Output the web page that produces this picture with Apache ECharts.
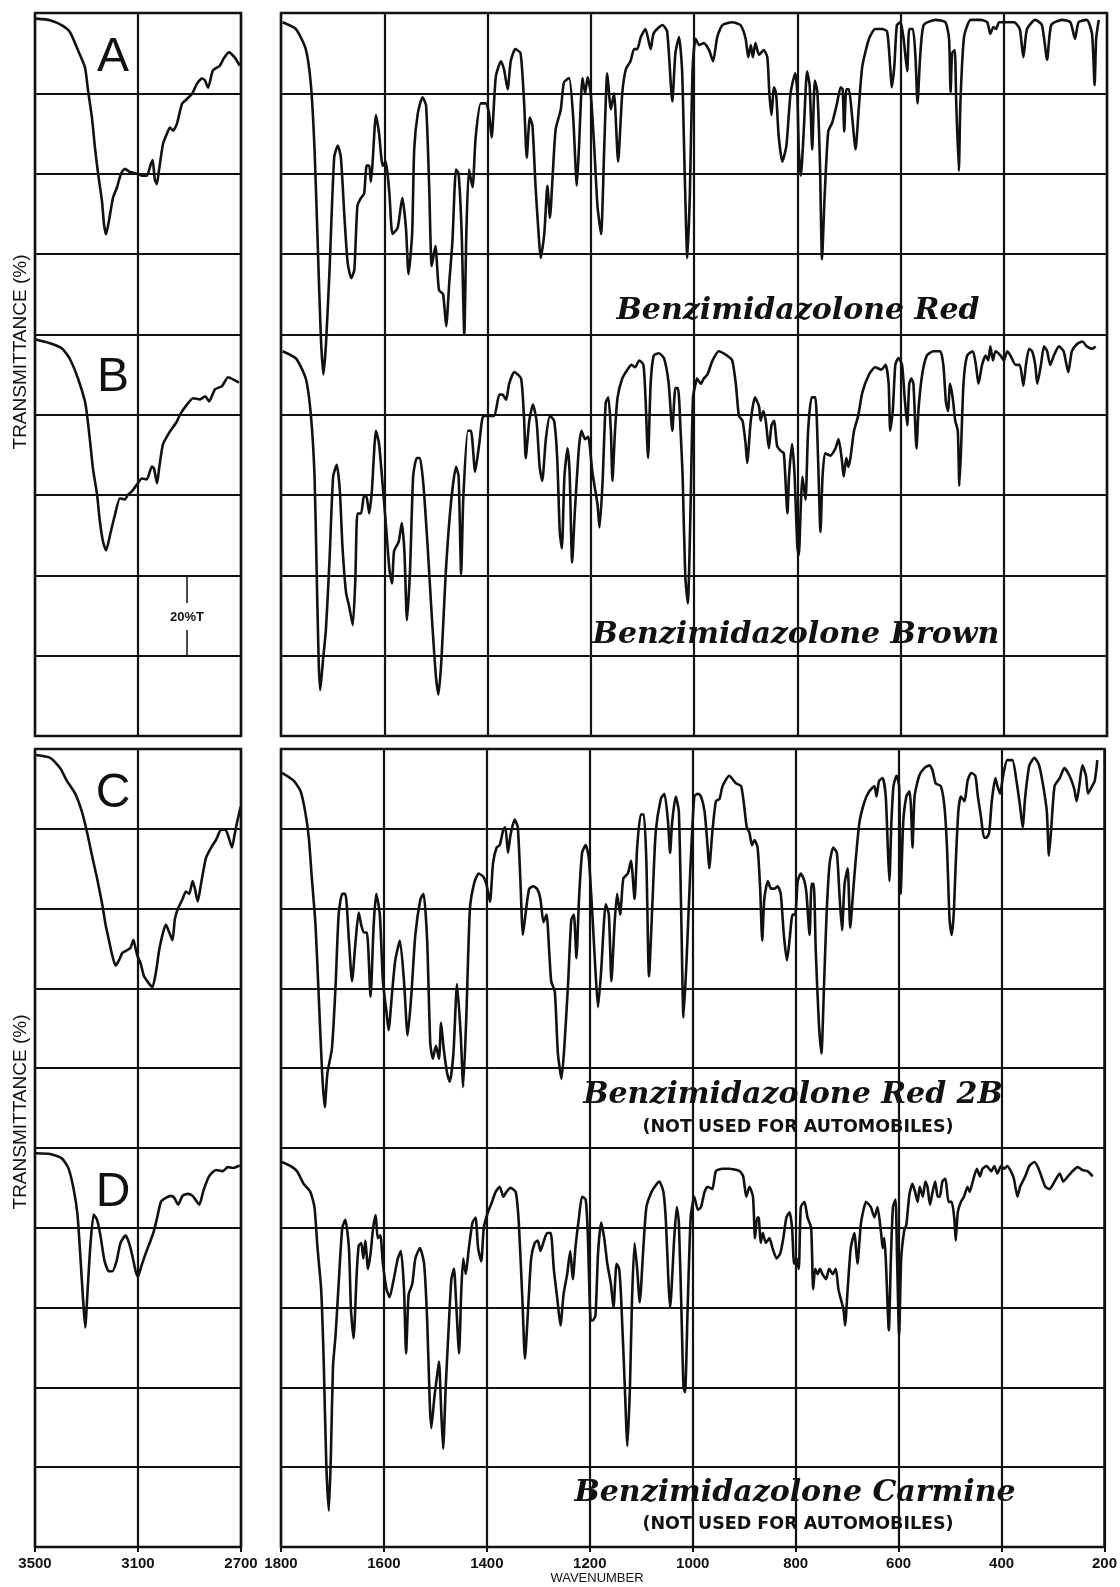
<!DOCTYPE html>
<html>
<head>
<meta charset="utf-8">
<script src="https://cdn.jsdelivr.net/npm/echarts@6/dist/echarts.min.js"></script>
<style>
  body { margin: 0; background: #fff; }
  #chart_main { width: 1120px; height: 1587px; }
</style>
</head>
<body>
<div id="chart_main"></div>
<script>
// wavenumber (cm-1) / transmittance (%)
const specA_hi = [[3496,98.6],[3442,98.2],[3395,96.9],[3364,95.2],[3333,90.7],[3306,86.5],[3294,80.7],[3279,74],[3267,66.4],[3255,60],[3240,53.2],[3232,47.4],[3224,44.9],[3213,48.2],[3197,54],[3182,56.5],[3166,60],[3151,61.2],[3131,60.4],[3104,60],[3085,59.5],[3066,59.5],[3050,62.4],[3043,63.4],[3035,58.6],[3027,57.4],[3019,60.6],[3003,67.4],[2988,69.9],[2976,71.5],[2964,70.7],[2949,72.4],[2929,77.4],[2910,78.6],[2890,79.9],[2871,82.4],[2851,83.7],[2840,83.2],[2828,81.4],[2809,85.7],[2782,86.9],[2767,88.7],[2747,90.2],[2724,88.9],[2705,86.9]];
const specB_hi = [[3500,98.8],[3442,97.8],[3395,96.5],[3364,93.8],[3333,89],[3306,83.3],[3298,80],[3286,73.3],[3275,66.6],[3259,60.1],[3248,53.4],[3236,48.4],[3224,46.2],[3208,50.2],[3189,55.2],[3170,59.2],[3151,58.9],[3139,60.1],[3124,60.9],[3104,62.6],[3085,64.1],[3066,63.9],[3046,67.1],[3038,66.6],[3026,62.9],[3018,66.6],[3003,72.6],[2976,75.8],[2949,78.3],[2937,80],[2910,82.5],[2886,84.1],[2859,83.8],[2839,84.6],[2824,83.3],[2801,86.3],[2774,87.1],[2750,89.3],[2731,88.8],[2708,88]];
const specC_hi = [[3496,98.5],[3441,97.8],[3402,95.2],[3376,92],[3344,88.8],[3318,84.3],[3298,79.2],[3279,73.4],[3259,67.6],[3239,61.1],[3226,56],[3213,52.1],[3200,48.3],[3187,45.7],[3174,47],[3161,48.9],[3144,49.5],[3129,50.2],[3118,52.1],[3112,50.8],[3103,48.3],[3090,46.3],[3077,43.1],[3057,41.2],[3044,40.3],[3031,43.8],[3018,49.5],[3005,53.4],[2992,56],[2979,54.1],[2966,52.1],[2957,57.3],[2946,59.8],[2927,62.4],[2914,64.3],[2901,63.7],[2888,66.9],[2879,65],[2868,61.8],[2855,66.3],[2836,72.7],[2816,75.3],[2797,77.2],[2777,79.8],[2761,79.8],[2748,77.9],[2735,75.3],[2725,78.5],[2715,81.7],[2701,85.6]];
const specD_hi = [[3496,98.7],[3441,98.5],[3396,97.4],[3370,94.9],[3350,89.7],[3335,83.3],[3324,73],[3314,62.7],[3305,55],[3296,64],[3285,75.5],[3272,83.3],[3259,82],[3246,78.1],[3230,71.7],[3213,69.1],[3200,69.1],[3183,71.7],[3168,76.2],[3148,78.1],[3135,76.2],[3122,73],[3109,69.1],[3100,67.8],[3087,70.4],[3070,73.6],[3050,77],[3037,79.5],[3024,83],[3011,86.5],[2992,87.5],[2972,88],[2959,87.5],[2944,85.8],[2927,88],[2907,88.5],[2888,88],[2871,86.5],[2862,85.8],[2845,89.5],[2823,93],[2797,94.5],[2771,94.2],[2751,95.2],[2731,95],[2705,95.6]];

const specA_lo = [[1797,97.7],[1771,96],[1752,91],[1742,82],[1735,66],[1729,43],[1723,20],[1718,10],[1713,17.3],[1706,36],[1697,64],[1690,67],[1684,64],[1677,49],[1671,38],[1664,34],[1658,36],[1652,52],[1645,54],[1639,55],[1634,62],[1629,62],[1626,58],[1623,62],[1616,74.6],[1610,70],[1603,62],[1597,63],[1590,55],[1584,45],[1574,46.5],[1565,54],[1558,46.5],[1553,35],[1546,45],[1542,66],[1535,75],[1526,79],[1519,77],[1513,57],[1508,37],[1501,42],[1494,31],[1486,30],[1480,22],[1474,33],[1468,43],[1461,61],[1456,60],[1450,45],[1445,20],[1441,45],[1436,61],[1429,56.6],[1423,69],[1413,77.5],[1403,77.5],[1397,75],[1392,69],[1384,84],[1374,88],[1368,86],[1361,81],[1355,88],[1346,91],[1336,90],[1329,77.5],[1324,64],[1318,74],[1313,72],[1307,57],[1301,45],[1297,39],[1290,45],[1284,57],[1279,49],[1274,59],[1268,71],[1258,76],[1252,82.7],[1242,83.8],[1234,74],[1227,57],[1223,66],[1216,83.8],[1211,80],[1206,84],[1200,80],[1193,66],[1187,52],[1180,45],[1174,66],[1168,85],[1161,76],[1155,80],[1147,63],[1139,80],[1132,86],[1123,88],[1116,91],[1110,91],[1103,94],[1094,96],[1084,91],[1078,95],[1061,97],[1052,95.4],[1042,78],[1036,90],[1029,94],[1023,85.5],[1018,60],[1013,39],[1008,55],[1003,85],[997,93.6],[990,92],[981,92.5],[971,90.8],[963,88],[955,94],[945,97],[926,97.7],[910,97],[900,93.6],[895,89],[890,92],[886,89],[881,92.5],[874,89.6],[865,90.8],[858,89],[854,80],[850,74.6],[845,81.5],[841,80],[836,69.4],[829,63],[821,67],[813,80],[804,85],[800,80.3],[797,65.9],[793,59.5],[787,71.7],[781,85.5],[776,82],[771,66],[766,83.2],[761,80.3],[756,62.4],[752,38.7],[747,54.3],[740,70.5],[732,72.8],[723,77.5],[716,81.5],[712,81],[709,70.5],[705,81],[700,81],[694,74.6],[687,66],[681,76],[674,86.7],[661,93.6],[649,96],[636,96],[626,95.4],[620,86.7],[617,81.5],[612,86.7],[607,97],[600,97.7],[594,93.6],[587,85.5],[583,96],[576,96],[571,89],[567,77.5],[562,89],[555,97],[532,98.3],[513,97.7],[506,93.6],[503,80.3],[500,90],[495,90.8],[492,77.5],[487,60.7],[484,77.5],[477,94],[464,98.3],[445,98.3],[432,97.7],[426,94.8],[420,96.5],[415,96],[409,97.7],[396,97.7],[380,97.7],[369,96],[362,89],[355,96],[339,98.3],[326,97],[316,88.4],[308,97],[287,98.3],[271,97.7],[262,93.6],[255,97.7],[239,98.3],[229,94.8],[224,82],[221,93.6],[216,98.3]];
const specB_lo = [[1797,95.8],[1771,94],[1752,89],[1742,79.7],[1735,64.6],[1731,41.5],[1727,18.4],[1724,11.4],[1719,18.4],[1713,26.5],[1706,43.8],[1699,64.6],[1692,67.5],[1686,61],[1681,47.3],[1674,35.7],[1668,32.3],[1661,27.6],[1656,39],[1652,55.4],[1645,55.4],[1639,60],[1634,59.4],[1629,55.4],[1624,61],[1616,76],[1610,72.7],[1603,62.3],[1597,53],[1590,41.5],[1585,38],[1581,46],[1572,48.4],[1566,53],[1561,46],[1556,28.8],[1550,41.5],[1544,64.6],[1537,69.2],[1531,69.2],[1524,62.3],[1516,47.3],[1508,30],[1500,15],[1495,10.3],[1489,19.5],[1481,40.3],[1471,57.7],[1461,67],[1456,64.6],[1451,40.3],[1447,58.8],[1438,76],[1432,76],[1424,65.8],[1416,72.7],[1408,79.7],[1397,79.7],[1387,79.7],[1377,85],[1371,85],[1364,83.7],[1358,87.7],[1348,90.6],[1335,89],[1329,78.5],[1326,69.2],[1319,78.5],[1312,82.5],[1305,78.5],[1299,67],[1294,63.5],[1287,73.9],[1279,79.7],[1271,78.5],[1265,69.2],[1260,50.8],[1256,46.7],[1251,64.6],[1245,71.6],[1241,65.8],[1236,43.2],[1231,55.4],[1223,71.6],[1218,76],[1211,73.9],[1205,74.5],[1197,65.8],[1187,57.7],[1183,51.9],[1177,63.5],[1171,83],[1166,84.3],[1161,76],[1158,63.5],[1153,76],[1148,84.3],[1139,89],[1129,91.2],[1121,92.4],[1114,91.8],[1106,93.5],[1098,92.4],[1094,84.3],[1089,69.2],[1084,87.7],[1078,94.7],[1068,95.3],[1058,94],[1049,87.7],[1042,76],[1036,86.6],[1031,86.6],[1026,76],[1022,64.6],[1017,40],[1012,33],[1007,55],[1002,84.3],[997,87.7],[994,89],[987,87.7],[981,89],[974,90],[964,93.5],[952,95.8],[936,94.7],[926,93.5],[919,87.7],[913,79.7],[906,78.5],[900,72.7],[897,68],[890,78.5],[882,84.3],[874,82],[871,78.5],[866,80.9],[861,78.5],[855,71.6],[850,77.3],[845,78.5],[839,72.2],[832,71],[826,70.4],[819,55.4],[816,64.6],[810,72.7],[805,64.6],[800,47.3],[797,45],[793,57.7],[790,64.6],[784,58.8],[779,76],[772,84.3],[765,84.3],[760,70.4],[755,50.8],[751,64.6],[746,70.4],[736,69.8],[726,71.6],[720,73.9],[714,69.2],[710,64.6],[705,69.2],[701,67],[697,69.2],[690,76],[682,79.7],[674,85.5],[661,90],[649,91.8],[637,91.2],[629,92.4],[623,87.7],[620,76],[615,80.9],[610,92.4],[604,94.1],[597,92.4],[592,84.3],[587,77.3],[583,87.7],[579,89],[575,87.7],[569,71.6],[565,81.5],[558,90],[549,94.7],[536,95.8],[523,95.8],[517,92.4],[512,83.1],[508,80.9],[504,87.7],[499,84.3],[494,78.5],[489,76],[486,62.3],[483,70.4],[478,87.7],[471,94.7],[460,95.8],[454,92.4],[449,87.7],[442,92.4],[435,94.7],[430,93.5],[426,97],[421,93.5],[416,95.8],[406,94.7],[400,93.5],[393,95.8],[387,94.7],[377,92.4],[369,92.4],[362,87.2],[357,92.4],[351,96.4],[345,95.8],[339,92.4],[335,87.7],[328,92.4],[322,97],[316,95.8],[310,92.4],[303,94.7],[293,97],[284,95.8],[275,90.6],[268,95.8],[258,97.6],[248,98.2],[239,97],[229,96.4],[222,97]];
const specC_lo = [[1798,94],[1775,92],[1762,89.4],[1753,84.3],[1746,77.8],[1740,67.5],[1733,56],[1727,39],[1720,18.6],[1715,10.2],[1710,18.6],[1701,25],[1694,40.5],[1688,58.5],[1681,63.7],[1675,63.7],[1668,52],[1662,41.8],[1655,52],[1649,59],[1644,55.8],[1639,54],[1633,54],[1626,37.9],[1620,55.8],[1615,63.7],[1608,58.5],[1602,41.8],[1595,34],[1591,29.5],[1584,39.2],[1578,47],[1569,52],[1561,41.8],[1554,28.2],[1547,37.9],[1539,53.4],[1529,62.4],[1523,63.7],[1516,52],[1510,26.3],[1505,22.4],[1499,25.6],[1493,22.4],[1489,31.4],[1484,25],[1477,18.6],[1472,16.6],[1465,23.7],[1458,41.1],[1451,28.9],[1446,15.3],[1440,32.7],[1433,59.8],[1425,66.2],[1416,68.8],[1407,68],[1401,66.2],[1394,61.7],[1388,71.4],[1381,75.3],[1375,75.9],[1368,79.8],[1364,80.4],[1359,74],[1354,78.5],[1346,82.3],[1340,80.4],[1335,67.5],[1330,53.4],[1325,58.5],[1318,64.9],[1310,65.6],[1302,64.9],[1296,62.4],[1290,56.6],[1284,58.5],[1279,49.5],[1275,41.8],[1268,39.2],[1262,23.7],[1255,17.3],[1249,26.3],[1242,41.8],[1236,57.2],[1231,58.5],[1226,47.6],[1221,62.4],[1215,74],[1208,75.9],[1202,72.7],[1195,58.5],[1189,44.3],[1184,35.3],[1178,44.3],[1169,61.1],[1163,58.5],[1158,41.8],[1152,56],[1147,63.7],[1141,58.5],[1135,67.5],[1126,68.8],[1120,72],[1113,62.4],[1108,75.3],[1101,83.6],[1095,83.6],[1090,71.4],[1085,43],[1078,62.4],[1072,79.1],[1062,87.5],[1055,88.8],[1048,81.7],[1044,74],[1040,81.7],[1033,88.1],[1027,84.3],[1022,56],[1018,32.7],[1012,47],[1005,68.8],[997,88.1],[990,88.8],[984,88.1],[977,84.3],[971,75.3],[968,70.1],[962,79.1],[955,86.9],[948,87.5],[942,90.7],[929,93.3],[916,91.4],[906,90.7],[900,85.6],[895,80.4],[890,79.1],[885,75.9],[880,77.2],[874,75.3],[869,65],[865,52],[861,62.4],[854,66.9],[848,65],[841,65],[835,65.6],[829,63.7],[823,53.4],[817,47],[812,52],[806,58.5],[801,58.5],[796,66.9],[790,68.8],[783,66.9],[779,63.7],[773,53.4],[769,66.2],[765,66.2],[761,49.5],[755,31.4],[750,23.7],[745,40.5],[740,58.5],[734,71.4],[727,75.3],[720,74],[715,63.7],[710,54.6],[705,66.2],[699,70.1],[694,55.2],[688,64.9],[683,72.7],[676,81.7],[666,86.9],[657,89.4],[647,90.7],[643,88.1],[638,92],[631,92.7],[625,88.1],[621,75.3],[618,66.9],[614,81.7],[610,90.7],[604,93.3],[599,90.7],[596,63.7],[591,81.7],[585,88.1],[579,89.4],[576,85.6],[573,75.3],[569,88.1],[560,93.3],[550,95.2],[540,95.9],[534,94.6],[528,91.4],[518,90.7],[511,85.6],[506,75.3],[501,57.2],[497,53.4],[493,58.5],[489,71.4],[484,84.3],[479,88.1],[472,86.9],[466,92],[459,94],[451,93.3],[446,88.1],[440,83],[434,77.8],[429,77.8],[424,79.1],[419,86.9],[412,92.7],[408,90.7],[403,88.8],[397,93.3],[389,97.2],[379,97.2],[371,92],[364,85.6],[359,80.4],[354,88.1],[346,95.9],[336,97.8],[327,95.9],[319,90.7],[312,84.3],[308,73.3],[304,79.1],[297,90.7],[287,92.7],[278,95.2],[268,93.3],[259,90.1],[254,86.9],[249,90.7],[243,95.9],[236,93.3],[232,88.8],[224,90.7],[219,92],[214,97.2]];
const specD_lo = [[1798,96.5],[1782,95.5],[1769,94.2],[1756,91],[1743,89],[1735,85.2],[1729,74.9],[1722,64.6],[1717,46.5],[1712,20.7],[1707,9.1],[1703,23.3],[1699,45.2],[1694,53],[1688,65.9],[1681,80],[1675,82],[1668,74.9],[1664,59.4],[1659,52.3],[1653,68.4],[1649,75.5],[1644,76.2],[1640,72.3],[1636,76.8],[1631,69.7],[1626,73.6],[1621,80],[1616,83.2],[1612,77.4],[1607,78.1],[1602,71],[1595,64.6],[1589,62.6],[1581,67.1],[1573,72.3],[1567,74.2],[1561,64.6],[1557,48.5],[1552,63.3],[1545,65.9],[1539,72.3],[1530,74.9],[1522,71],[1516,56.8],[1511,36.2],[1508,29.8],[1502,37.5],[1497,42.7],[1493,46.5],[1489,34.9],[1485,24.6],[1480,40.1],[1474,55.5],[1469,67.1],[1464,69.7],[1460,62],[1454,48.5],[1450,63.3],[1446,72.3],[1441,68.4],[1435,74.9],[1428,81.3],[1422,82.6],[1417,74.9],[1411,71.6],[1406,80],[1398,83.9],[1390,86.5],[1383,89],[1375,90.3],[1368,87.8],[1362,89],[1354,90],[1344,89],[1338,81.3],[1331,62],[1326,47.2],[1320,59.4],[1314,72.3],[1307,76.2],[1301,76.8],[1296,74.2],[1289,76.8],[1283,78.7],[1276,78.7],[1270,69.7],[1263,62],[1257,55.5],[1251,63.3],[1244,68.4],[1238,74.2],[1233,67.1],[1228,74.9],[1221,82.6],[1215,87.8],[1208,87.1],[1204,78.7],[1198,56.8],[1194,56.8],[1189,58.1],[1184,73.6],[1178,81.3],[1172,77.4],[1166,71],[1159,65.9],[1154,60],[1148,71],[1143,69.7],[1139,62],[1132,40.1],[1127,25.3],[1122,40.1],[1118,62],[1113,76.2],[1108,69.7],[1103,61.3],[1096,74.9],[1090,85.2],[1080,89],[1070,91],[1065,91.6],[1057,89],[1052,81.3],[1047,65.9],[1044,60],[1036,77.4],[1031,85.2],[1027,81.3],[1022,59.4],[1018,40.1],[1015,38.8],[1010,59.4],[1004,82.6],[997,87.8],[990,84.5],[984,85.2],[977,89],[971,90.3],[962,89.7],[955,94.2],[942,94.8],[929,94.8],[909,94.2],[902,92.9],[896,87.8],[890,90.3],[883,87.8],[879,77.4],[875,82.6],[872,82.6],[868,76.2],[864,78.7],[858,76.2],[851,77.4],[845,74.9],[837,72.3],[830,73.6],[824,77.4],[818,82.6],[812,83.9],[807,80],[803,71],[798,72.3],[794,69.7],[790,85.2],[783,86.5],[777,82.6],[770,80],[766,64.6],[762,69.7],[757,68.4],[753,69.7],[748,68.4],[741,67.1],[735,69.7],[728,68.4],[722,69.7],[717,64.6],[712,62],[707,59.4],[704,55.5],[699,64.6],[693,74.9],[686,78.7],[680,71],[673,81.3],[663,86.5],[654,85.2],[647,82.6],[641,85.2],[634,78.7],[631,74.9],[628,77.4],[625,72.3],[619,54.3],[615,72.3],[611,85.2],[606,87.1],[603,72.3],[599,53],[595,72.3],[589,79.4],[585,80.7],[579,88.4],[573,91],[568,89],[563,86.5],[559,90.3],[553,87.8],[548,91.6],[544,90.3],[539,85.8],[534,89],[529,91.6],[524,87.8],[520,87.8],[515,91.6],[509,92.3],[503,86.5],[497,86.5],[492,82.6],[489,76.8],[485,83.9],[479,86.5],[473,87.8],[466,90.3],[462,89],[456,91.6],[448,94.8],[442,92.9],[437,94.8],[429,95.5],[420,94.2],[414,95.5],[408,93.6],[401,95.5],[395,94.8],[389,95.5],[382,94.2],[376,92.3],[369,87.8],[364,90.3],[359,91.6],[354,92.9],[346,95.5],[336,96.5],[328,94.8],[321,92.3],[315,90.3],[307,89.7],[297,91.6],[287,93.6],[280,91.6],[271,92.9],[262,94.2],[252,95.2],[243,94.5],[233,94.2],[223,92.9]];

const hiTicks = [3500, 3100, 2700];
const loTicks = [1800, 1600, 1400, 1200, 1000, 800, 600, 400, 200];

const names = ['Benzimidazolone Red', 'Benzimidazolone Brown', 'Benzimidazolone Red 2B', 'Benzimidazolone Carmine'];
const note = '(NOT USED FOR AUTOMOBILES)';

var myChart = echarts.init(document.getElementById('chart_main'), null, { renderer: 'canvas' });

const black = '#111';
const gridBox = { show: true, borderColor: black, borderWidth: 2.5, backgroundColor: 'transparent' };

function xHi(gridIndex, labels) {
    // plotted as distance from 3500 so the 400 step lands on 3500/3100/2700
    return {
        type: 'value', gridIndex: gridIndex, min: 0, max: 800, interval: 400,
        axisLine: { show: false },
        axisTick: { show: labels, length: 5, lineStyle: { color: black, width: 2 } },
        axisLabel: { show: labels, margin: 9, color: black, fontFamily: 'Liberation Sans', fontWeight: 'bold', fontSize: 15,
            formatter: v => String(hiTicks[0] - v) },
        splitLine: { show: true, lineStyle: { color: black, width: 2.2 } }
    };
}
function xLo(gridIndex, labels) {
    return {
        type: 'value', gridIndex: gridIndex, min: 200, max: 1800, interval: 200, inverse: true,
        axisLine: { show: false },
        axisTick: { show: labels, length: 5, lineStyle: { color: black, width: 2 } },
        axisLabel: { show: labels, margin: 9, color: black, fontFamily: 'Liberation Sans', fontWeight: 'bold', fontSize: 15,
            formatter: v => loTicks.indexOf(v) >= 0 ? String(v) : '' },
        splitLine: { show: true, lineStyle: { color: black, width: 2.2 } }
    };
}
function yAx(gridIndex, max) {
    return {
        type: 'value', gridIndex: gridIndex, min: 0, max: max, interval: 20,
        axisLine: { show: false }, axisTick: { show: false }, axisLabel: { show: false },
        splitLine: { show: true, lineStyle: { color: black, width: 2.2 } }
    };
}
function trace(data, idx, hi, offset) {
    return {
        type: 'line', xAxisIndex: idx, yAxisIndex: idx, showSymbol: false, smooth: 0.2,
        silent: true, animation: false,
        lineStyle: { color: black, width: 2.6 },
        data: data.map(p => [hi ? hiTicks[0] - p[0] : p[0], p[1] + offset])
    };
}

function txt(x, y, text, font, rot) {
    return {
        type: 'text', x: x, y: y, rotation: rot || 0, silent: true,
        style: { text: text, font: font, fill: black, textAlign: 'center', textVerticalAlign: 'middle' }
    };
}

const bigFont = '48px "Liberation Sans"';
const titleFont = 'italic bold 30px "DejaVu Serif"';
const noteFont = 'bold 17.5px "DejaVu Sans"';
const sideFont = '19px "Liberation Sans"';

var option = {
    backgroundColor: '#fff',
    animation: false,
    grid: [
        Object.assign({ left: 35, top: 13, width: 206, height: 723 }, gridBox),
        Object.assign({ left: 281, top: 13, width: 826, height: 723 }, gridBox),
        Object.assign({ left: 35, top: 749, width: 206, height: 798 }, gridBox),
        Object.assign({ left: 281, top: 749, width: 826, height: 798 }, gridBox)
    ],
    xAxis: [xHi(0, false), xLo(1, false), xHi(2, true), xLo(3, true)],
    yAxis: [yAx(0, 180), yAx(1, 180), yAx(2, 200), yAx(3, 200)],
    series: [
        trace(specA_hi, 0, true, 80),
        trace(specB_hi, 0, true, 0),
        trace(specA_lo, 1, false, 80),
        trace(specB_lo, 1, false, 0),
        trace(specC_hi, 2, true, 100),
        trace(specD_hi, 2, true, 0),
        trace(specC_lo, 3, false, 100),
        trace(specD_lo, 3, false, 0)
    ],
    graphic: [
        txt(113, 58, 'A', bigFont),
        txt(113, 378, 'B', bigFont),
        txt(113, 794, 'C', bigFont),
        txt(113, 1193, 'D', bigFont),
        txt(798, 311, names[0], titleFont),
        txt(796, 635, names[1], titleFont),
        txt(793, 1095, names[2], titleFont),
        txt(798, 1127, note, noteFont),
        txt(795, 1493, names[3], titleFont),
        txt(798, 1524, note, noteFont),
        txt(21, 352, 'TRANSMITTANCE (%)', sideFont, Math.PI / 2),
        txt(21, 1112, 'TRANSMITTANCE (%)', sideFont, Math.PI / 2),
        txt(597, 1578, 'WAVENUMBER', '13px "Liberation Sans"'),
        txt(187, 617, '20%T', 'bold 13px "Liberation Sans"'),
        { type: 'line', silent: true, shape: { x1: 187, y1: 575, x2: 187, y2: 603 }, style: { stroke: black, lineWidth: 1.5 } },
        { type: 'line', silent: true, shape: { x1: 187, y1: 630, x2: 187, y2: 656 }, style: { stroke: black, lineWidth: 1.5 } }
    ]
};
myChart.setOption(option);
</script>
</body>
</html>
